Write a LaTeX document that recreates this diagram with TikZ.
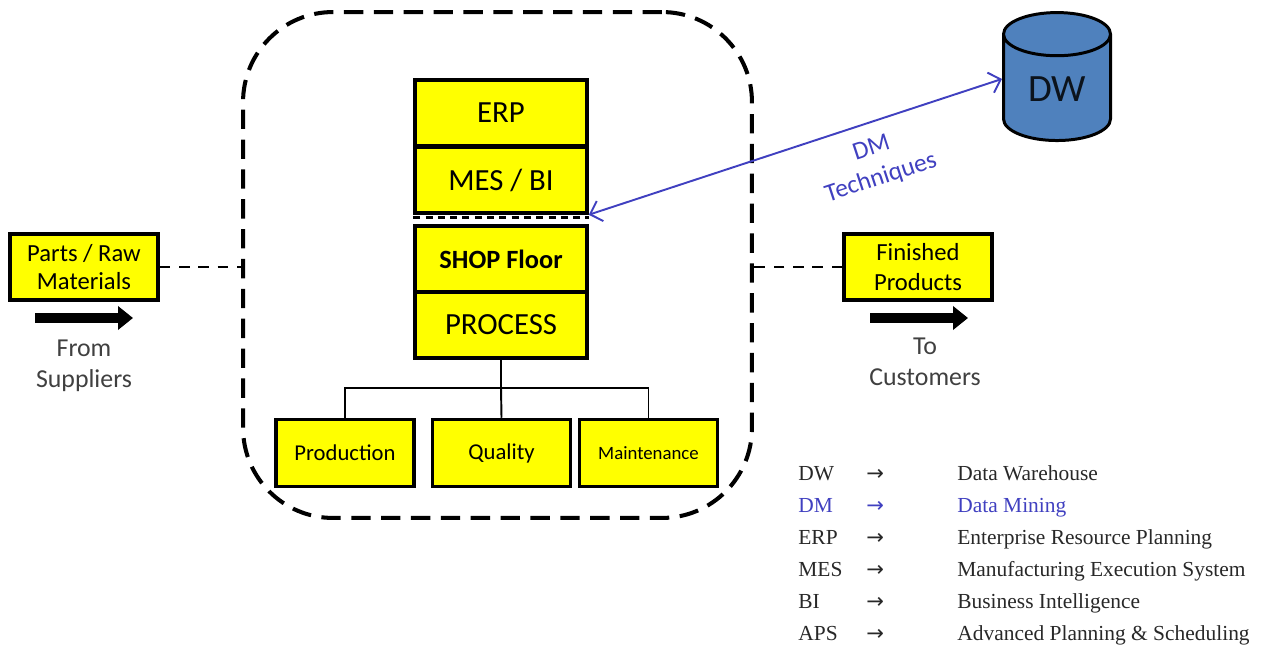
\documentclass[tikz,border=0pt]{standalone}
\usepackage{fontspec}
\setmainfont{Carlito}
\newfontfamily\legendfont{Liberation Serif}
\newfontfamily\arrowfont{DejaVu Sans}
\usetikzlibrary{shapes.geometric,arrows.meta}
\definecolor{boxyellow}{RGB}{255,255,0}
\definecolor{dmblue}{RGB}{64,64,192}
\definecolor{dwblue}{RGB}{79,129,189}
\definecolor{txtgray}{RGB}{64,64,64}
\definecolor{txtdark}{RGB}{40,40,40}

\begin{document}
\begin{tikzpicture}[x=0.02cm, y=-0.02cm,
	box/.style={shape=rectangle, draw=black, line width=2pt, fill=boxyellow, inner sep=2pt, align=center},
	stackbox/.style={box, minimum width=3.44cm, minimum height=1.32cm, font=\fontsize{17.5}{20}\selectfont},
	smallbox/.style={box, minimum width=2.76cm, minimum height=1.34cm, font=\fontsize{12.9}{15}\selectfont},
	sidebox/.style={box, minimum width=2.96cm, minimum height=1.32cm},
	plant/.style={shape=rectangle, draw=black, line width=2.3pt, rounded corners=1.8cm, dash pattern=on 11pt off 6pt, inner sep=0pt, minimum width=10.18cm, minimum height=10.12cm},
	link/.style={draw=black, line width=1.4pt, dash pattern=on 6pt off 5pt},
	tree/.style={draw=black, line width=1.1pt},
	flow/.style={draw=black, line width=0.22cm, -{Triangle[length=0.3cm, width=0.46cm]}},
	note/.style={align=center, text=txtgray, font=\fontsize{14.7}{17.5}\selectfont},
	dmlink/.style={draw=dmblue, line width=1.1pt, {Straight Barb[length=6pt, width=12pt]}-{Straight Barb[length=6pt, width=12pt]}},
	legtext/.style={anchor=west, inner sep=0pt, text height=8pt, text depth=2.5pt, font=\legendfont\fontsize{12.2}{14}\selectfont}]

	\useasboundingbox (0,0) rectangle (1263,648);

	\node[plant] (plant) at (497.5,265) {};

	\node[stackbox] (erp)  at (501,113) {ERP};
	\node[stackbox] (mes)  at (501,180) {MES / BI};
	\draw[line width=2.2pt, dash pattern=on 4pt off 3pt] ([yshift=-1.6pt]mes.south west) -- ([yshift=-1.6pt]mes.south east);
	\node[stackbox, font=\bfseries\fontsize{15}{18}\selectfont] (shop) at (501,259) {SHOP Floor};
	\node[stackbox] (proc) at (501,325) {PROCESS};

	\node[smallbox] (prod)  at (345,453)   {Production};
	\node[smallbox] (qual)  at (501.5,453) {Quality};
	\node[smallbox, font=\fontsize{10.7}{13}\selectfont] (maint) at (648.5,453) {Maintenance};

	\coordinate (split) at (501,388);
	\path[tree] (proc.south) edge (split);
	\path[tree] (split) edge (qual.north);
	\draw[tree] (prod.north) |- (split) -| (maint.north);

	\node[sidebox, font=\fontsize{14}{16.4}\selectfont] (parts) at (84,267)  {Parts / Raw\\Materials};
	\node[sidebox, font=\fontsize{14}{17.5}\selectfont] (fin)   at (918,267) {Finished\\Products};
	\path[link] (parts.east) edge (parts.east -| plant.west);
	\path[link] (fin.west) edge (fin.west -| plant.east);

	\coordinate (inA)  at (35,318);
	\coordinate (inB)  at (133,318);
	\coordinate (outA) at (870,318);
	\coordinate (outB) at (968,318);
	\draw[flow] (inA) -- (inB);
	\draw[flow] (outA) -- (outB);
	\node[note] (sup) at (84,366)  {From\\Suppliers};
	\node[note] (cus) at (925,362) {To\\Customers};

	\node[shape=cylinder, shape border rotate=90, aspect=0.62, draw=black, line width=1.7pt, fill=dwblue, minimum width=2.14cm, minimum height=2.56cm, text=black!85!dwblue, font=\fontsize{22}{26}\selectfont] (dw) at (1057,93) {\raisebox{4pt}{DW}};

	\draw[dmlink] (mes.south east) -- ([yshift=8pt]dw.west)
		node[pos=0.665, sloped, below=5pt, align=center, text=dmblue, font=\fontsize{14.5}{17.5}\selectfont] (dmt) {DM\\Techniques};

	\foreach \ab/\desc/\col [count=\i] in {DW/Data Warehouse/txtdark, DM/Data Mining/dmblue, ERP/Enterprise Resource Planning/txtdark, MES/Manufacturing Execution System/txtdark, BI/Business Intelligence/txtdark, APS/Advanced Planning \& Scheduling/txtdark} {
		\node[legtext, text=\col] (ab\i) at (798,444+32*\i) {\ab};
		\node[legtext, text=\col, font=\arrowfont\fontsize{12}{14}\selectfont] (ar\i) at (866,444+32*\i) {→};
		\node[legtext, text=\col] (ds\i) at (957,444+32*\i) {\desc};
	}
\end{tikzpicture}
\end{document}
